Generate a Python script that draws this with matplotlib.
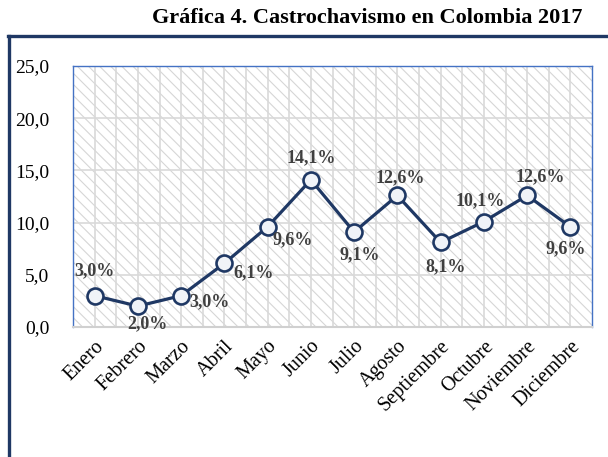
import matplotlib.pyplot as plt
from matplotlib.patches import Rectangle
from matplotlib.lines import Line2D

# data
meses = ['Enero', 'Febrero', 'Marzo', 'Abril', 'Mayo', 'Junio', 'Julio',
         'Agosto', 'Septiembre', 'Octubre', 'Noviembre', 'Diciembre']
valores = [3.0, 2.0, 3.0, 6.1, 9.6, 14.1, 9.1, 12.6, 8.1, 10.1, 12.6, 9.6]
y_ticks = [0, 5, 10, 15, 20, 25]

# label offsets in pixels (dx, dy)
offsets = [(0, 25), (10, -18), (28, -6), (29, -9), (25, -13), (0, 22),
           (6, -23), (3, 18), (5, -24), (-4, 21), (13, 19), (-5, -22)]

navy = '#1F3864'
grid_c = '#D9D9D9'

plt.rcParams['font.family'] = ['Liberation Serif', 'DejaVu Serif']
plt.rcParams['hatch.color'] = '#D6D6D6'
plt.rcParams['hatch.linewidth'] = 0.8

fig = plt.figure(figsize=(6.08, 4.57), dpi=100)
ax = fig.add_axes([73 / 608, 1 - 327 / 457, (592 - 73) / 608, (327 - 66) / 457])

x = list(range(len(meses)))

# hatched background
ax.add_patch(Rectangle((0, 0), 1, 1, transform=ax.transAxes, facecolor='white',
                       edgecolor='#D6D6D6', hatch='\\\\\\', lw=0, zorder=0))

# grid lines
for gx in [i * 0.5 for i in range(0, 23)]:
    ax.axvline(gx, color=grid_c, lw=1.2, zorder=1)
for gy in y_ticks[1:-1]:
    ax.axhline(gy, color=grid_c, lw=1.2, zorder=1)

ax.plot(x, valores, color=navy, lw=2.3, marker='o', markersize=11.5,
        markerfacecolor='#F0F3F8', markeredgecolor=navy, markeredgewidth=1.9,
        zorder=3)

for xi, v, (dx, dy) in zip(x, valores, offsets):
    ax.annotate(f'{v:.1f}'.replace('.', ',') + '%', (xi, v), xytext=(dx, dy),
                textcoords='offset pixels', ha='center', va='center',
                fontsize=13, fontweight='bold', color='#404040', zorder=4)

ax.set_xlim(-0.5, 11.5)
ax.set_ylim(0, 25)
ax.set_yticks(y_ticks)
ax.set_yticklabels([f'{t:.1f}'.replace('.', ',') for t in y_ticks], fontsize=14)
ax.set_xticks(x)
ax.set_xticklabels(meses, rotation=45, ha='right', rotation_mode='anchor',
                   fontsize=14.5)
ax.tick_params(axis='both', length=0)
ax.tick_params(axis='y', pad=17)
ax.tick_params(axis='x', pad=7)

for s in ['left', 'top', 'right']:
    ax.spines[s].set_color('#4472C4')
    ax.spines[s].set_linewidth(1.0)
ax.spines['bottom'].set_color('#D0D0D0')
ax.spines['bottom'].set_linewidth(1.5)

# outer frame
fig.add_artist(Line2D([8 / 608, 1], [1 - 36 / 457, 1 - 36 / 457], color=navy,
                      lw=2.4, transform=fig.transFigure))
fig.add_artist(Line2D([9 / 608, 9 / 608], [1 - 36 / 457, 0], color=navy,
                      lw=2.4, transform=fig.transFigure))

fig.text(367 / 608, 1 - 18 / 457, 'Gráfica 4. Castrochavismo en Colombia 2017',
         ha='center', va='center', fontsize=16, fontweight='bold')

fig.savefig('out.png', dpi=100)
